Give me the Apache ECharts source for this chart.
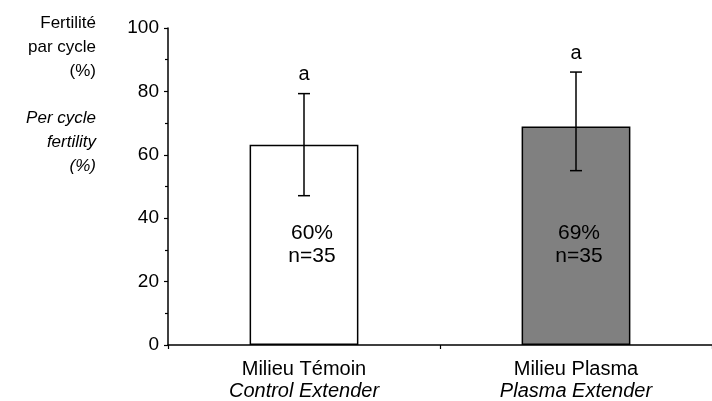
<!DOCTYPE html>
<html>
<head>
<meta charset="utf-8">
<script src="https://cdn.jsdelivr.net/npm/echarts@6/dist/echarts.min.js"></script>
<style>html,body{margin:0;padding:0;background:#fff}#c{width:712px;height:401px}</style>
</head>
<body>
<div id="c"></div>
<script>
var categories = ['Milieu Témoin', 'Milieu Plasma'];
var categoriesEn = ['Control Extender', 'Plasma Extender'];
var barValues = [63.2, 68.9];
var errLow = [47.1, 55.0];
var errHigh = [79.3, 86.1];
var barLabels = ['60%', '69%'];
var nLabels = ['n=35', 'n=35'];
var sigLetters = ['a', 'a'];
var yTicks = [0, 20, 40, 60, 80, 100];

var FONT = '"Liberation Sans", Arial, sans-serif';
var chart = echarts.init(document.getElementById('c'), null, {renderer: 'canvas'});

var barData = barValues.map(function (v, i) {
  return {
    value: v,
    itemStyle: {color: i === 0 ? '#ffffff' : '#808080', borderColor: '#000', borderWidth: 1.5},
    label: {offset: [i === 0 ? 8 : 3, 0]}
  };
});

chart.setOption({
  animation: false,
  grid: {left: 168, right: -7, top: 28, bottom: 56, containLabel: false},
  xAxis: {
    type: 'category',
    data: categories,
    axisLine: {lineStyle: {color: '#000', width: 1.5}},
    axisTick: {show: true, alignWithLabel: false, length: 4, lineStyle: {color: '#000', width: 1.2}},
    axisLabel: {
      margin: 13,
      interval: 0,
      formatter: function (v, i) { return '{n|' + v + '}\n{i|' + categoriesEn[i] + '}'; },
      rich: {
        n: {fontFamily: FONT, fontSize: 20, color: '#000', lineHeight: 22},
        i: {fontFamily: FONT, fontSize: 20, fontStyle: 'italic', color: '#000', lineHeight: 22}
      }
    }
  },
  yAxis: {
    type: 'value',
    min: yTicks[0],
    max: yTicks[yTicks.length - 1],
    interval: 20,
    axisLine: {show: true, lineStyle: {color: '#000', width: 1.5}},
    axisTick: {show: true, length: 4, lineStyle: {color: '#000', width: 1.2}},
    minorTick: {show: true, splitNumber: 2, length: 3, lineStyle: {color: '#000', width: 1.2}},
    splitLine: {show: false},
    axisLabel: {fontFamily: FONT, fontSize: 19, color: '#000', margin: 9}
  },
  graphic: [
    {type: 'text', x: 96, y: 11, style: {
      text: 'Fertilité\npar cycle\n(%)', fontFamily: FONT, fontSize: 17, lineHeight: 24,
      fill: '#000', align: 'right', verticalAlign: 'top'}},
    {type: 'text', x: 96, y: 106, style: {
      text: 'Per cycle\nfertility\n(%)', fontFamily: FONT, fontSize: 17, fontStyle: 'italic', lineHeight: 24,
      fill: '#000', align: 'right', verticalAlign: 'top'}}
  ],
  series: [
    {
      type: 'bar',
      data: barData,
      barWidth: '40%',
      label: {
        show: true,
        position: 'insideBottom',
        distance: 77,
        formatter: function (p) { return barLabels[p.dataIndex] + '\n' + nLabels[p.dataIndex]; },
        fontFamily: FONT, fontSize: 21, lineHeight: 23, color: '#000'
      }
    },
    {
      type: 'custom',
      data: errLow.map(function (lo, i) { return [i, lo, errHigh[i]]; }),
      renderItem: function (params, api) {
        var x = api.value(0);
        var lo = api.coord([x, api.value(1)]);
        var hi = api.coord([x, api.value(2)]);
        var hw = 6;
        var st = {stroke: '#000', lineWidth: 1.5};
        return {
          type: 'group',
          children: [
            {type: 'line', shape: {x1: lo[0], y1: lo[1], x2: hi[0], y2: hi[1]}, style: st},
            {type: 'line', shape: {x1: lo[0] - hw, y1: lo[1], x2: lo[0] + hw, y2: lo[1]}, style: st},
            {type: 'line', shape: {x1: hi[0] - hw, y1: hi[1], x2: hi[0] + hw, y2: hi[1]}, style: st},
            {type: 'text', x: hi[0], y: hi[1] - 9, style: {
              text: sigLetters[params.dataIndex], fontFamily: FONT, fontSize: 20, fill: '#000',
              align: 'center', verticalAlign: 'bottom'}}
          ]
        };
      },
      z: 5
    }
  ]
});
</script>
</body>
</html>
